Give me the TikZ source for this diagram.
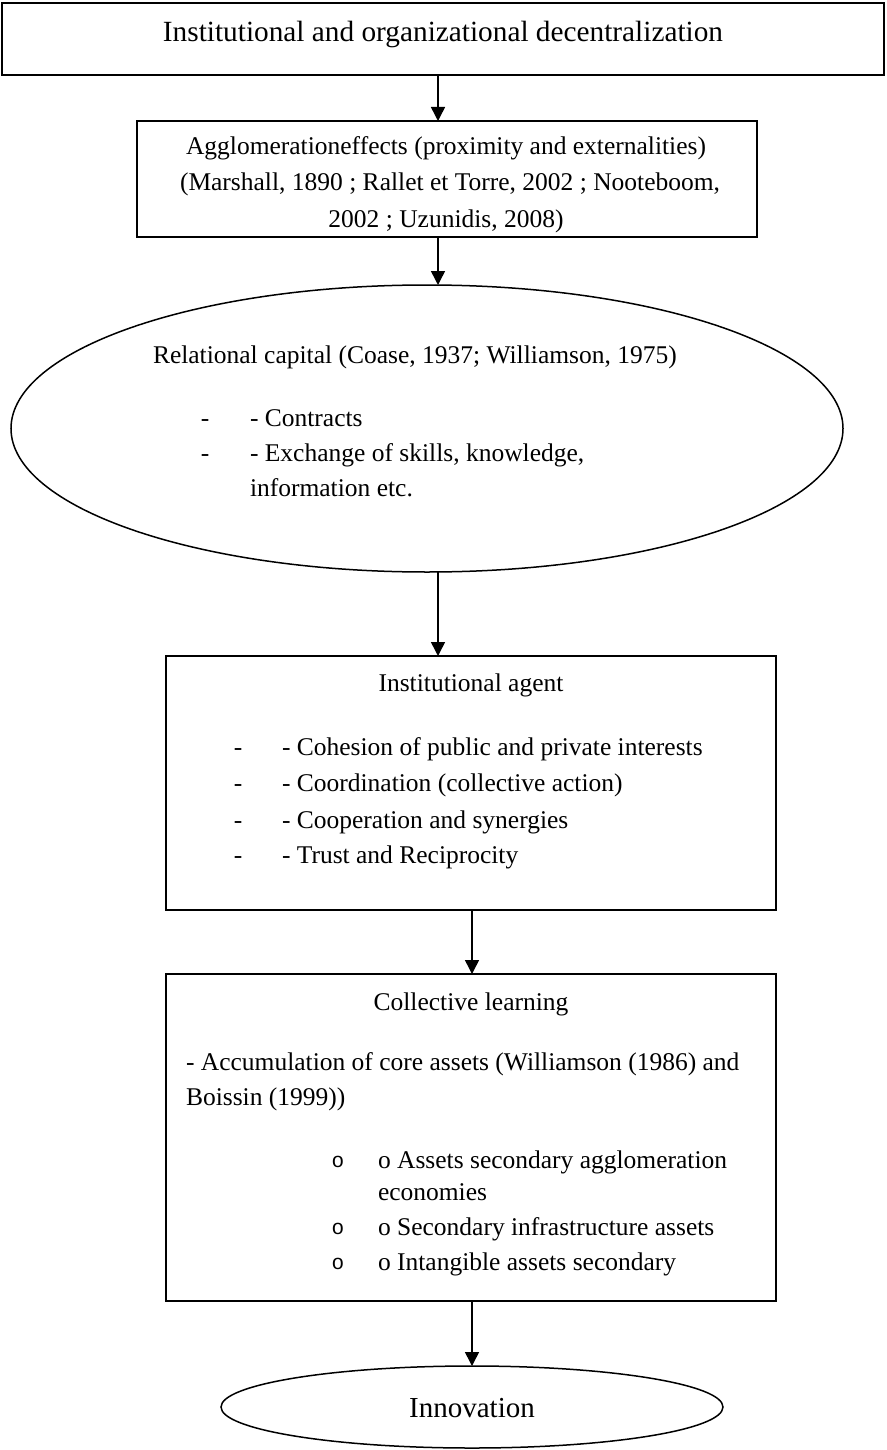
\documentclass[tikz,border=0pt]{standalone}
\usepackage{fontspec}
\setmainfont{Liberation Serif}
\newfontfamily\bulletfont{Liberation Mono}
\usetikzlibrary{arrows.meta,shapes.geometric}
\begin{document}
\begin{tikzpicture}[x=1pt,y=-1pt,
  boxshape/.style={draw,line width=1.6pt,rectangle,inner sep=0pt,outer sep=0pt,anchor=north west},
  ellshape/.style={draw,line width=1.5pt,ellipse,inner sep=0pt,outer sep=0pt},
  lbl/.style={inner sep=0pt,outer sep=0pt,font=\fontsize{25.5}{30}\selectfont},
  ttl/.style={inner sep=0pt,outer sep=0pt,font=\fontsize{29.3}{34}\selectfont},
  big/.style={inner sep=0pt,outer sep=0pt,font=\fontsize{29}{34}\selectfont},
  bul/.style={inner sep=0pt,outer sep=0pt,font=\bulletfont\fontsize{21}{24}\selectfont},
  arr/.style={line width=1.5pt,-{Triangle[length=14pt,width=14pt]}}]
\useasboundingbox (0,0) rectangle (886,1450);
% boxes
\node[boxshape,minimum width=882pt,minimum height=72pt] (top) at (2,3) {};
\node[boxshape,minimum width=620pt,minimum height=116pt] (b2) at (137,121) {};
\node[ellshape,minimum width=832pt,minimum height=287pt] (ell) at (427,428.5) {};
\node[boxshape,minimum width=610pt,minimum height=254pt] (b3) at (166,656) {};
\node[boxshape,minimum width=610pt,minimum height=327pt] (b4) at (166,974) {};
\node[ellshape,minimum width=502pt,minimum height=82pt] (inn) at (472,1407) {};
% texts
\node[ttl,anchor=base] (t0) at (443,42) {Institutional and organizational decentralization};
\node[lbl,anchor=base] (t21) at (446,155) {Agglomerationeffects (proximity and externalities)};
\node[lbl,anchor=base] (t22) at (450,191) {(Marshall, 1890 ; Rallet et Torre, 2002 ; Nooteboom,};
\node[lbl,anchor=base] (t23) at (446,227) {2002 ; Uzunidis, 2008)};
\node[lbl,anchor=base west] (t31) at (153,363) {Relational capital (Coase, 1937; Williamson, 1975)};
\node[lbl,anchor=base] (d31) at (205,426) {-};
\node[lbl,anchor=base west] (t32) at (250,426) {- Contracts};
\node[lbl,anchor=base] (d32) at (205,461) {-};
\node[lbl,anchor=base west] (t33) at (250,461) {- Exchange of skills, knowledge,};
\node[lbl,anchor=base west] (t34) at (250,496) {information etc.};
\node[lbl,anchor=base] (t41) at (471,691) {Institutional agent};
\node[lbl,anchor=base] (d41) at (238,755) {-};
\node[lbl,anchor=base west] (t42) at (282,755) {- Cohesion of public and private interests};
\node[lbl,anchor=base] (d42) at (238,791) {-};
\node[lbl,anchor=base west] (t43) at (282,791) {- Coordination (collective action)};
\node[lbl,anchor=base] (d43) at (238,828) {-};
\node[lbl,anchor=base west] (t44) at (282,828) {- Cooperation and synergies};
\node[lbl,anchor=base] (d44) at (238,863) {-};
\node[lbl,anchor=base west] (t45) at (282,863) {- Trust and Reciprocity};
\node[lbl,anchor=base] (t51) at (471,1010) {Collective learning};
\node[lbl,anchor=base west] (t52) at (186,1070) {- Accumulation of core assets (Williamson (1986) and};
\node[lbl,anchor=base west] (t53) at (186,1105) {Boissin (1999))};
\node[bul,anchor=base] (o51) at (338,1167) {o};
\node[lbl,anchor=base west] (t54) at (378,1168) {o Assets secondary agglomeration};
\node[lbl,anchor=base west] (t55) at (378,1200) {economies};
\node[bul,anchor=base] (o52) at (338,1234) {o};
\node[lbl,anchor=base west] (t56) at (378,1235) {o Secondary infrastructure assets};
\node[bul,anchor=base] (o53) at (338,1269) {o};
\node[lbl,anchor=base west] (t57) at (378,1270) {o Intangible assets secondary};
\node[big,anchor=base] (t61) at (472,1417) {Innovation};
% connectors
\coordinate (ax1) at (438,0);
\coordinate (ax2) at (472,0);
\draw[arr] (top.south -| ax1) -- (b2.north -| ax1);
\draw[arr] (b2.south -| ax1) -- (ell.north -| ax1);
\draw[arr] (ell.south -| ax1) -- (b3.north -| ax1);
\draw[arr] (b3.south -| ax2) -- (b4.north -| ax2);
\draw[arr] (b4.south -| ax2) -- (inn.north -| ax2);
\end{tikzpicture}
\end{document}
